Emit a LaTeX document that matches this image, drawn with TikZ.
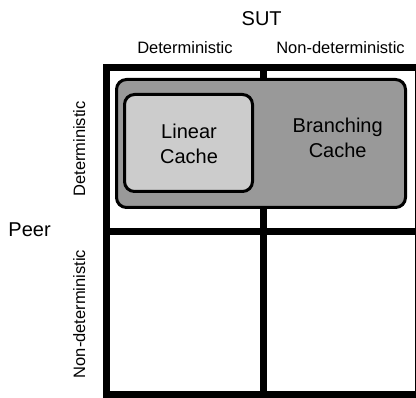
\documentclass[tikz,border=0pt]{standalone}
\usepackage{fontspec}
\setmainfont{Liberation Sans}
\begin{document}
\begin{tikzpicture}[x=1pt,y=-1pt,
  gridline/.style={line width=7pt},
  cachebox/.style={draw=black,line width=3pt,rounded corners=10pt},
  biglabel/.style={font=\fontsize{20}{25}\selectfont,inner sep=0pt},
  smalllabel/.style={font=\fontsize{16.5}{20}\selectfont,inner sep=0pt},
  boxlabel/.style={font=\fontsize{20}{25}\selectfont,inner sep=0pt,align=center}]
  \useasboundingbox (0,0) rectangle (416,398);
  \fill[white] (0,0) rectangle (416,398);

  % the 2x2 grid of peer / SUT behaviour
  \coordinate (tl) at (106.5,68);
  \coordinate (br) at (418.5,394.5);
  \draw[gridline] (tl) rectangle (br);
  \draw[gridline] (263,68) -- (263,394.5);
  \draw[gridline] (106.5,231.3) -- (418.5,231.3);

  % caches: branching region spans both SUT columns, linear one sits inside it
  \draw[cachebox,fill=black!40] (116.5,79.5) rectangle (405.5,207.5);
  \draw[cachebox,fill=black!20] (124.5,94.5) rectangle (252.5,191.5);
  \node[boxlabel] (linear) at (189,143.8) {Linear\\Cache};
  \node[boxlabel] (branching) at (337.7,138.3) {Branching\\Cache};

  % axis labels
  \node[biglabel,anchor=base] (sut) at (261.7,25.7) {SUT};
  \node[smalllabel,anchor=base] (sutdet) at (185,53.3) {Deterministic};
  \node[smalllabel,anchor=base] (sutnondet) at (340.5,53.3) {Non-deterministic};
  \node[biglabel,anchor=base west] (peer) at (8.3,236.7) {Peer};
  \node[smalllabel,anchor=base,rotate=90] (peerdet) at (85,149) {Deterministic};
  \node[smalllabel,anchor=base,rotate=90] (peernondet) at (85,314) {Non-deterministic};
\end{tikzpicture}
\end{document}
